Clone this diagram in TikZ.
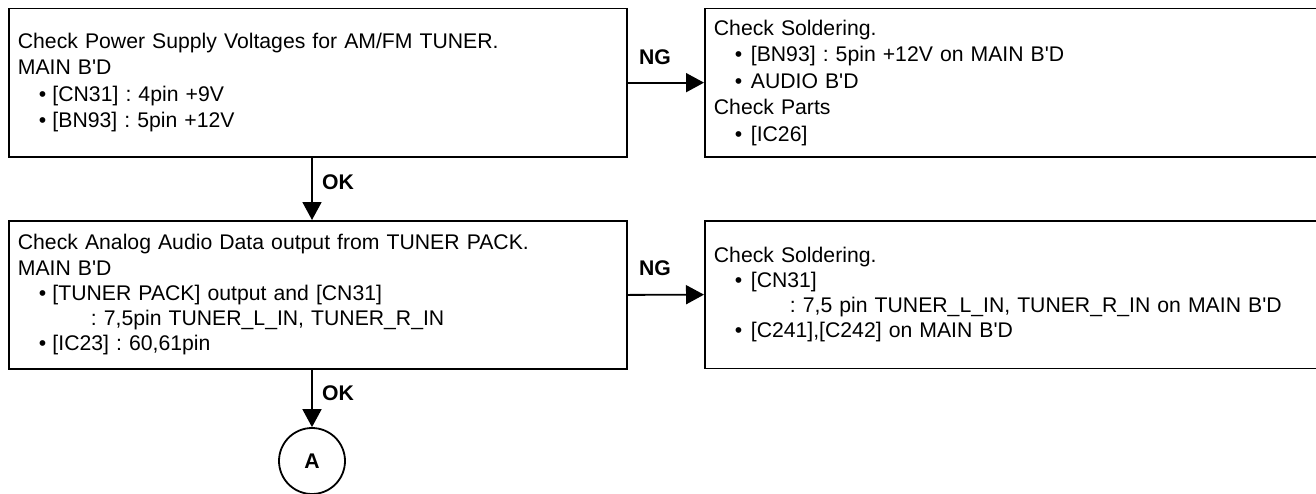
\documentclass[tikz,border=0pt]{standalone}
\usepackage{fontspec}
\setmainfont{Liberation Sans}
\usetikzlibrary{arrows.meta}
\newcommand\bl{\hspace*{10.5pt}\makebox[6.8pt][l]{\textbullet}}
\newcommand\br{\hspace*{10.5pt}\makebox[8pt][l]{\textbullet}}
\newcommand\ap{\textquotesingle}
\frenchspacing
\begin{document}
\begin{tikzpicture}[x=0.5pt,y=-0.5pt,
 box/.style={draw,line width=0.9pt,anchor=north west,align=left,inner xsep=4.5pt,inner ysep=0pt,font=\fontsize{10.6pt}{13.25pt}\selectfont},
 boxb/.style={box,font=\fontsize{10.6pt}{12.6pt}\selectfont},
 arr/.style={line width=0.9pt,-{Triangle[length=9pt,width=9.5pt]}},
 lbl/.style={font=\fontsize{10.6pt}{13pt}\selectfont\bfseries,inner sep=0pt}]
\useasboundingbox (0,0) rectangle (1316,493);
\node[box,text width=300pt,minimum height=74.25pt] (b1) at (8,7.5)
 {Check Power Supply Voltages for AM/FM TUNER.\\ MAIN B\ap D\\ \bl[CN31] : 4pin +9V\\ \bl[BN93] : 5pin +12V};
\node[box,text width=298pt,minimum height=74.25pt] (b2) at (704,7.5)
 {Check Soldering.\\ \br[BN93] : 5pin +12V on MAIN B\ap D\\ \br AUDIO B\ap D\\ Check Parts\\ \br[IC26]};
\node[boxb,text width=300pt,minimum height=74pt] (b3) at (8,220)
 {Check Analog Audio Data output from TUNER PACK.\\ MAIN B\ap D\\ \bl[TUNER PACK] output and [CN31]\\ \hspace*{36.5pt}: 7,5pin TUNER\_L\_IN, TUNER\_R\_IN\\ \bl[IC23] : 60,61pin};
\node[boxb,text width=298pt,minimum height=73.75pt] (b4) at (704,220)
 {Check Soldering.\\ \br[CN31]\\ \hspace*{38pt}: 7,5 pin TUNER\_L\_IN, TUNER\_R\_IN on MAIN B\ap D\\ \br[C241],[C242] on MAIN B\ap D};
\node[draw,circle,line width=0.9pt,minimum size=33pt,inner sep=0pt,lbl] (A) at (312,461) {A};
\draw[arr] (b1.east) -- (b2.west) node[lbl,midway,xshift=-5.5pt,yshift=12.5pt] {NG};
\draw[arr] (b3.east) -- (b4.west) node[lbl,midway,xshift=-5.5pt,yshift=13.5pt] {NG};
\draw[arr] (b1.south -| A.center) -- (b3.north -| A.center) node[lbl,midway,xshift=13pt,yshift=3.5pt] {OK};
\draw[arr] (b3.south -| A.center) -- (A.north) node[lbl,midway,xshift=13pt,yshift=2.5pt] {OK};
\end{tikzpicture}
\end{document}
